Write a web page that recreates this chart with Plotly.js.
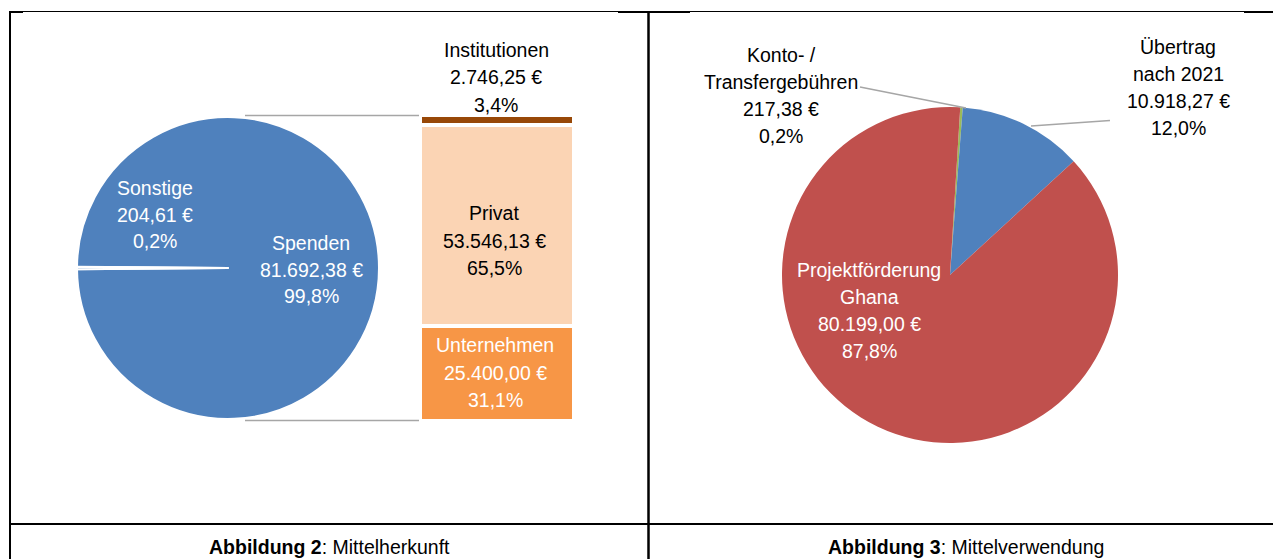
<!DOCTYPE html>
<html><head><meta charset="utf-8">
<script src="https://cdn.plot.ly/plotly-3.0.1.min.js"></script>
<style>html,body{margin:0;padding:0;background:#fff}#chart{width:1273px;height:559px}</style>
</head><body><div id="chart"></div>
<script>
// ---- data ----
const pieLabelsLeft = ['Spenden', 'Sonstige'];
const pieValuesLeft = [81692.38, 204.61];
const barLabels = ['Unternehmen', 'Privat', 'Institutionen'];
const barValues = [25400.00, 53546.13, 2746.25];
const pieLabelsRight = ['Konto- /|Transfergebühren', 'Übertrag|nach 2021', 'Projektförderung|Ghana'];
const pieValuesRight = [217.38, 10918.27, 80199.00];
const captionBold = ['Abbildung 2', 'Abbildung 3'];
const captionText = ['Mittelherkunft', 'Mittelverwendung'];

// ---- styling ----
const W = 1273, H = 559;
const FONT = '"Liberation Sans", Arial, sans-serif';
const FS = 19.5;
const blue = '#4F81BD', red = '#C0504D', green = '#9BBB59';
const barColors = ['#F79646', '#FBD4B4', '#984807'];
const barTextColors = ['#ffffff', '#000000', '#000000'];
const px = v => v / W, py = v => 1 - v / H;

function euro(v) {
  const parts = v.toFixed(2).split('.');
  return parts[0].replace(/\B(?=(\d{3})+(?!\d))/g, '.') + ',' + parts[1] + ' €';
}
function pct(v, t) { return (v / t * 100).toFixed(1).replace('.', ',') + '%'; }
const sum = a => a.reduce((s, v) => s + v, 0);

const annotations = [];
function addLabel(lines, cx, y0, color, pitch) {
  lines.forEach((t, i) => annotations.push({
    xref: 'paper', yref: 'paper', x: px(cx), y: py(y0 + i * pitch),
    xanchor: 'center', yanchor: 'middle', showarrow: false, text: t,
    font: {family: FONT, size: FS, color: color}
  }));
}

const totL = sum(pieValuesLeft);
const totB = sum(barValues);
const totR = sum(pieValuesRight);

// left pie labels
addLabel([pieLabelsLeft[1], euro(pieValuesLeft[1]), pct(pieValuesLeft[1], totL)], 155, 188, '#fff', 26.7);
addLabel([pieLabelsLeft[0], euro(pieValuesLeft[0]), pct(pieValuesLeft[0], totL)], 311, 243, '#fff', 26.7);
// bar labels
const barLabelPos = [[495, 345], [494, 213], [496, 50]];
barLabels.forEach((l, i) => addLabel([l, euro(barValues[i]), pct(barValues[i], totB)], barLabelPos[i][0], barLabelPos[i][1], barTextColors[i], 27.5));
// right pie labels
const rightPos = [[781, 55, '#000'], [1178, 47, '#000'], [869, 270, '#fff']];
pieLabelsRight.forEach((l, i) => addLabel(l.split('|').concat([euro(pieValuesRight[i]), pct(pieValuesRight[i], totR)]), rightPos[i][0], rightPos[i][1], rightPos[i][2], 27));
// captions
[329, 966].forEach((cx, i) => annotations.push({
  xref: 'paper', yref: 'paper', x: px(cx), y: py(547), xanchor: 'center', yanchor: 'middle', showarrow: false,
  text: '<b>' + captionBold[i] + '</b>: ' + captionText[i],
  font: {family: FONT, size: FS, color: '#000'}
}));

const traces = [
  {type: 'pie', labels: pieLabelsLeft, values: pieValuesLeft, sort: false, direction: 'clockwise', rotation: -89.55,
   domain: {x: [px(77), px(379)], y: [py(419), py(117)]},
   marker: {colors: [blue, blue], line: {color: '#fff', width: 2}}, textinfo: 'none', hoverinfo: 'none', showlegend: false},
  {type: 'pie', labels: pieLabelsRight.map(s => s.replace('|', ' ')), values: pieValuesRight, sort: false, direction: 'clockwise', rotation: 3.5,
   domain: {x: [px(782), px(1118)], y: [py(443), py(107)]},
   marker: {colors: [green, blue, red], line: {width: 0}}, textinfo: 'none', hoverinfo: 'none', showlegend: false}
];
barLabels.forEach((l, i) => traces.push({
  type: 'bar', name: l, x: [0], y: [barValues[i]], marker: {color: barColors[i], line: {color: '#fff', width: 4}},
  hoverinfo: 'none', showlegend: false, xaxis: 'x', yaxis: 'y'
}));

function ln(x0, y0, x1, y1, color, width) {
  return {type: 'line', xref: 'paper', yref: 'paper', x0: px(x0), y0: py(y0), x1: px(x1), y1: py(y1), line: {color: color, width: width}};
}
const gray = '#A6A6A6';
const shapes = [
  // table borders
  ln(9, 11.5, 1273, 11.5, '#000', 1),
  ln(9, 12, 23, 12, '#000', 2), ln(618, 12, 690, 12, '#000', 2), ln(1244, 12, 1273, 12, '#000', 2),
  ln(10, 11, 10, 559, '#000', 2),
  ln(648.5, 12, 648.5, 559, '#000', 2.5),
  ln(9, 524, 1273, 524, '#000', 2),
  // pie-of-bar connectors
  ln(245, 115.5, 419, 115.5, gray, 1.5),
  ln(245, 420.5, 419, 420.5, gray, 1.5),
  // leader lines
  ln(860, 87, 966, 108, gray, 1.5),
  ln(1031, 126, 1110, 120.5, gray, 1.5)
];

const layout = {
  width: W, height: H, autosize: false, margin: {l: 0, r: 0, t: 0, b: 0},
  paper_bgcolor: '#fff', plot_bgcolor: 'rgba(0,0,0,0)',
  barmode: 'stack', bargap: 0,
  xaxis: {domain: [px(420), px(574)], range: [-0.5, 0.5], visible: false, fixedrange: true},
  yaxis: {domain: [py(421), py(115)], range: [0, totB], visible: false, fixedrange: true},
  shapes: shapes, annotations: annotations
};
Plotly.newPlot('chart', traces, layout, {displayModeBar: false, staticPlot: true});
</script></body></html>
